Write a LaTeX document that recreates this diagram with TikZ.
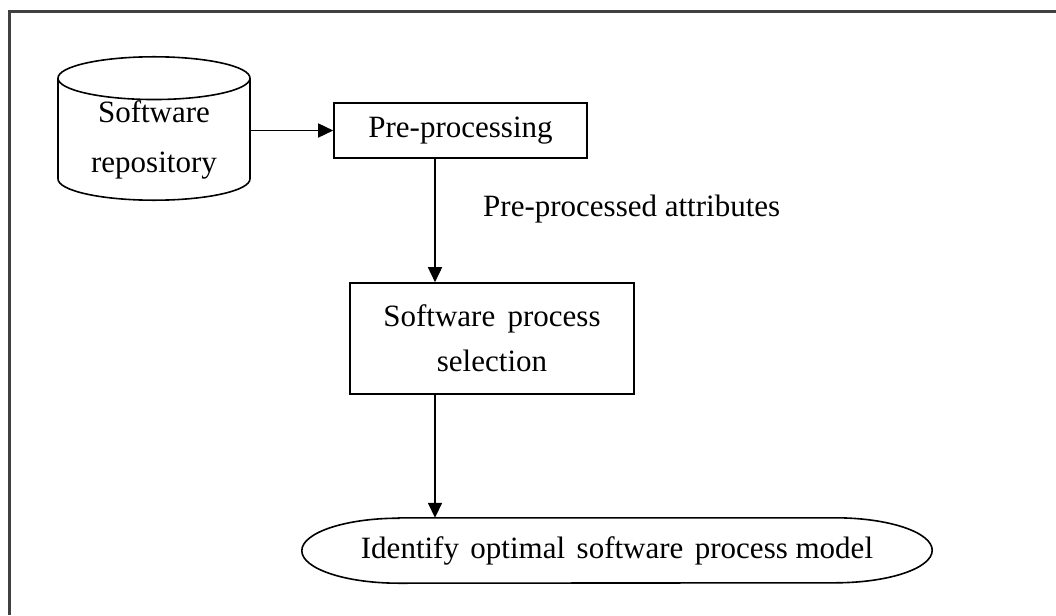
\documentclass[tikz,border=0pt]{standalone}
\usepackage{fontspec}
\setmainfont{Liberation Serif}
\usetikzlibrary{arrows.meta,positioning,shapes.geometric}
\tikzset{
  >={Triangle[length=15pt,width=14pt]},
  txt/.style={font=\fontsize{31}{45}\selectfont},
  box/.style={draw,line width=1.6pt,txt,align=center,inner sep=0pt},
  arr/.style={->,line width=1.6pt},
}
\begin{document}
\begin{tikzpicture}[x=1pt,y=-1pt]
\useasboundingbox (0,0) rectangle (1056,615);
\draw[line width=3pt,black!75] (9,615) |- (1056,12);
% store, steps and result
\node[box,cylinder,shape border rotate=90,aspect=0.34,minimum width=192pt,minimum height=131pt,
  font=\fontsize{31}{50}\selectfont,anchor=shape center] (repo) at (154,128.5) {Software\\repository};
\node[box,minimum width=253pt,minimum height=55pt] (prep) at (460.5,130.5) {Pre-processing};
\coordinate (spine) at (435,0);
\node[txt,anchor=west,inner sep=0pt] (attr) at (483,209) {Pre-processed attributes};
\node[box,minimum width=284pt,minimum height=111pt] (sel) at (492,338.5) {Software\hspace{.4em}process\\selection};
\node[txt,minimum width=630pt,minimum height=65pt,inner sep=0pt] (goal) at (617,550.5)
  {Identify\hspace{.37em}optimal\hspace{.37em}software\hspace{.37em}process model};
\draw[line width=1.6pt] ([xshift=97pt]goal.north west) -- ([xshift=-97pt]goal.north east)
  arc[start angle=90,end angle=-90,x radius=97pt,y radius=32.5pt] -- ([xshift=97pt]goal.south west)
  arc[start angle=270,end angle=90,x radius=97pt,y radius=32.5pt] -- cycle;
% flow
\draw[arr] (prep.west -| repo.east) -- (prep.west);
\draw[arr] (prep.south -| spine) -- (sel.north -| spine);
\draw[arr] (sel.south -| spine) -- (goal.north -| spine);
\end{tikzpicture}
\end{document}
